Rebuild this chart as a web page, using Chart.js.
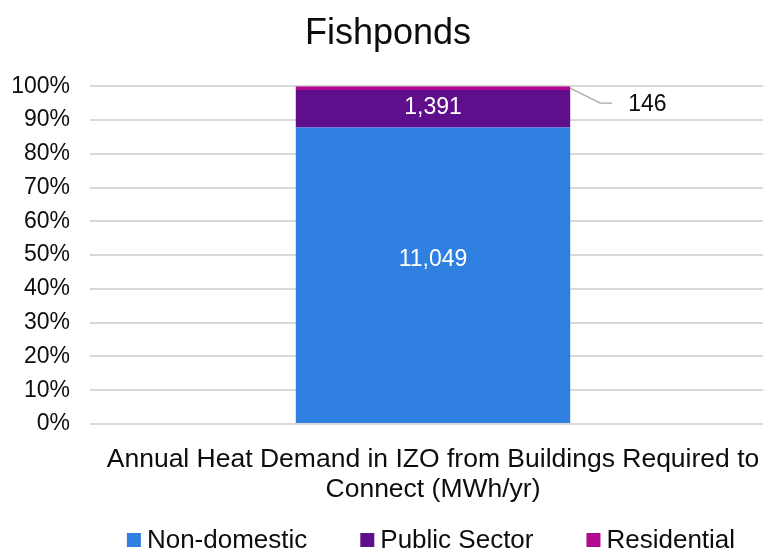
<!DOCTYPE html>
<html>
<head>
<meta charset="utf-8">
<script src="https://cdn.jsdelivr.net/npm/chart.js@4/dist/chart.umd.min.js"></script>
<style>
  html, body { margin: 0; padding: 0; background: #fff; overflow: hidden; }
  #wrap { width: 763px; height: 552px; overflow: hidden; }
</style>
</head>
<body>
<div id="wrap"><canvas id="c" width="790" height="552"></canvas></div>
<script>
// Category and series values (MWh/yr)
const categories = [["Annual Heat Demand in IZO from Buildings Required to", "Connect (MWh/yr)"]];
const seriesNames = ["Non-domestic", "Public Sector", "Residential"];
const nonDomestic = [11049];
const publicSector = [1391];
const residential = [146];
const tickLabels = ["0%", "10%", "20%", "30%", "40%", "50%", "60%", "70%", "80%", "90%", "100%"];
const colors = ["#2F80E1", "#5F0F8B", "#B2088F"];

const raw = [nonDomestic, publicSector, residential];
const totals = categories.map((_, i) => raw.reduce((s, arr) => s + arr[i], 0));
const shares = raw.map(arr => arr.map((v, i) => v / totals[i] * 100));

const FONT = "'Liberation Sans', Arial, sans-serif";
const TEXT = "#0d0d0d";

// Value labels: white inside the large segments, leader line for the thin one
const valueLabels = {
  id: "valueLabels",
  afterDatasetsDraw(chart, args, opts) {
    const ctx = chart.ctx;
    ctx.save();
    ctx.font = "23px " + FONT;
    ctx.textBaseline = "middle";
    chart.data.datasets.forEach((ds, di) => {
      const meta = chart.getDatasetMeta(di);
      meta.data.forEach((bar, i) => {
        const v = raw[di][i];
        const txt = v.toLocaleString("en-GB");
        const top = Math.min(bar.y, bar.base), bottom = Math.max(bar.y, bar.base);
        const cy = (top + bottom) / 2;
        if (bottom - top > 25) {
          ctx.fillStyle = "#ffffff";
          ctx.textAlign = "center";
          ctx.fillText(txt, bar.x, cy + (opts.nudge[di] || 0));
        } else {
          const x0 = bar.x + bar.width / 2;
          const ly = cy + 15;
          ctx.strokeStyle = "#a6a6a6";
          ctx.lineWidth = 1.3;
          ctx.beginPath();
          ctx.moveTo(x0, cy);
          ctx.lineTo(x0 + 30, ly);
          ctx.lineTo(x0 + 42, ly);
          ctx.stroke();
          ctx.fillStyle = TEXT;
          ctx.textAlign = "left";
          ctx.fillText(txt, x0 + 58, ly + 1);
        }
      });
    });
    ctx.restore();
  }
};

// Bottom legend: square swatch followed by the series name
const bottomLegend = {
  id: "bottomLegend",
  afterDraw(chart) {
    const ctx = chart.ctx;
    const box = 14, gapText = 6, gapItem = 53;
    ctx.save();
    ctx.font = "26px " + FONT;
    ctx.textBaseline = "middle";
    ctx.textAlign = "left";
    const items = chart.data.datasets.map(ds => ({ label: ds.label, color: ds.backgroundColor, w: ctx.measureText(ds.label).width }));
    const total = items.reduce((s, it) => s + box + gapText + it.w, 0) + gapItem * (items.length - 1);
    const ca = chart.chartArea;
    let x = (ca.left + ca.right) / 2 - 2 - total / 2;
    const y = chart.height - 12;
    items.forEach(it => {
      ctx.fillStyle = it.color;
      ctx.fillRect(x, y - box / 2, box, box);
      ctx.fillStyle = TEXT;
      ctx.fillText(it.label, x + box + gapText, y + 1);
      x += box + gapText + it.w + gapItem;
    });
    ctx.restore();
  }
};

new Chart(document.getElementById("c"), {
  type: "bar",
  data: {
    labels: categories,
    datasets: seriesNames.map((name, k) => ({
      label: name,
      data: shares[k],
      backgroundColor: colors[k],
      borderWidth: 0,
      barPercentage: 0.4,
      categoryPercentage: 1
    }))
  },
  options: {
    responsive: false,
    animation: false,
    devicePixelRatio: 1,
    layout: { padding: { left: 0, right: 14, top: 8, bottom: 0 } },
    plugins: {
      title: {
        display: true,
        text: "Fishponds",
        color: TEXT,
        font: { family: FONT, size: 36, weight: "normal" },
        padding: { top: 4, bottom: 31 }
      },
      legend: { display: false },
      tooltip: { enabled: false },
      valueLabels: { nudge: [-16, -1, 0] }
    },
    scales: {
      x: {
        stacked: true,
        grid: { display: false },
        border: { display: false },
        afterFit(axis) { axis.height = 128; },
        ticks: { color: TEXT, font: { family: FONT, size: 26.5, lineHeight: 1.13 }, maxRotation: 0, autoSkip: false, padding: 13 }
      },
      y: {
        stacked: true,
        min: 0,
        max: 100,
        grid: { color: "#d9d9d9", lineWidth: 2, drawTicks: false },
        border: { display: false },
        afterBuildTicks(axis) {
          axis.ticks = tickLabels.map((_, i) => ({ value: i * 10 }));
        },
        afterFit(axis) { axis.width = 90; },
        ticks: {
          color: TEXT,
          font: { family: FONT, size: 23 },
          padding: 20,
          callback: (v, i) => tickLabels[i]
        }
      }
    }
  },
  plugins: [valueLabels, bottomLegend]
});
</script>
</body>
</html>
